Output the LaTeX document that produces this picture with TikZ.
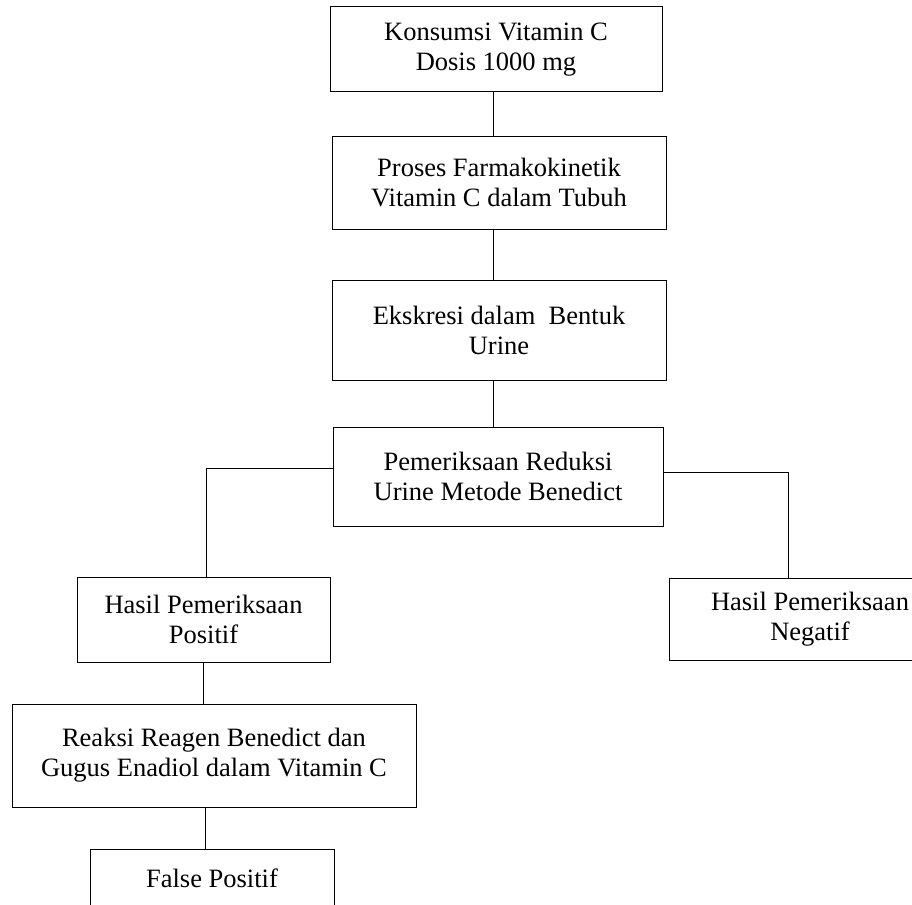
\documentclass[tikz,border=0pt]{standalone}
\usepackage{fontspec}
\setmainfont{Liberation Serif}
\begin{document}
\begin{tikzpicture}[x=1pt,y=-1pt,
  box/.style={draw=black, line width=1pt, inner sep=0pt, align=center,
    font=\fontsize{26.5}{30}\selectfont},
  conn/.style={draw=black, line width=1pt}]
\useasboundingbox (0,0) rectangle (912,904);
\node[box, minimum width=332, minimum height=85] (b1) at (496,49.5) {Konsumsi Vitamin C\\Dosis 1000 mg};
\node[box, minimum width=334, minimum height=92] (b2) at (499,183) {Proses Farmakokinetik\\Vitamin C dalam Tubuh};
\node[box, minimum width=334, minimum height=100] (b3) at (499,330) {Ekskresi dalam\ \ Bentuk\\Urine};
\node[box, minimum width=330, minimum height=99] (b4) at (498,476.5) {Pemeriksaan Reduksi\\Urine Metode Benedict};
\node[box, minimum width=253, minimum height=85] (pos) at (203.5,619.5) {Hasil Pemeriksaan\\Positif};
\node[box, minimum width=282, minimum height=82] (neg) at (810,619) {Hasil Pemeriksaan\\Negatif};
\node[box, minimum width=404, minimum height=103] (rk) at (214,755.5) {Reaksi Reagen Benedict dan\\Gugus Enadiol dalam Vitamin C};
\node[box, minimum width=244, minimum height=58] (fp) at (212,878) {False Positif};
\draw[conn] ([xshift=-3pt]b1.south) -- ([xshift=-3pt]b1.south |- b2.north);
\draw[conn] ([xshift=-3pt]b1.south |- b2.south) -- ([xshift=-3pt]b1.south |- b3.north);
\draw[conn] ([xshift=-3pt]b1.south |- b3.south) -- ([xshift=-3pt]b1.south |- b4.north);
\draw[conn] ([yshift=8.5pt]b4.west) -| ([xshift=2.5pt]pos.north);
\draw[conn] ([yshift=4.5pt]b4.east) -| ([xshift=-22pt]neg.north);
\draw[conn] (pos.south) -- (pos.south |- rk.north);
\draw[conn] ([xshift=1.5pt]pos.south |- rk.south) -- ([xshift=1.5pt]pos.south |- fp.north);
\end{tikzpicture}
\end{document}
